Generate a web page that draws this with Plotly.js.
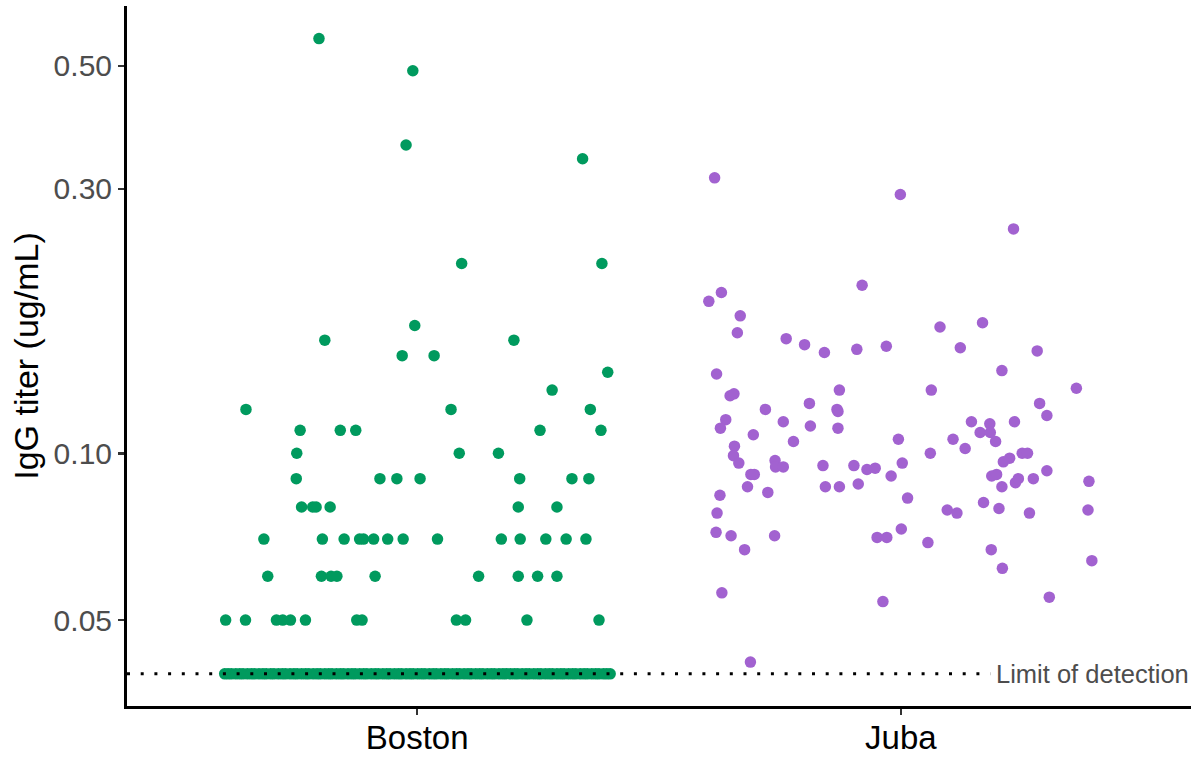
<!DOCTYPE html>
<html>
<head>
<meta charset="utf-8">
<script src="https://cdn.plot.ly/plotly-3.0.1.min.js"></script>
<style>
  html, body { margin: 0; padding: 0; background: #ffffff; }
  #chart { width: 1196px; height: 757px; }
</style>
</head>
<body>
<div id="chart"></div>
<script>
// ---- Data ----
const groups = ['Boston', 'Juba'];
const yTickVals = [0.05, 0.10, 0.30, 0.50];
const yTickText = ['0.05', '0.10', '0.30', '0.50'];
const limitOfDetection = 0.04;
const lodLabel = 'Limit of detection';

// Boston titers (ug/mL) and horizontal jitter (category units)
const bostonValues = [
  0.56, 0.49, 0.36, 0.34, 0.22, 0.22, 0.17, 0.16, 0.16, 0.15, 0.15, 0.14, 0.13,
  0.12, 0.12, 0.12,
  0.11, 0.11, 0.11, 0.11, 0.11,
  0.10, 0.10, 0.10,
  0.09, 0.09, 0.09, 0.09, 0.09, 0.09, 0.09,
  0.08, 0.08, 0.08, 0.08, 0.08, 0.08,
  0.07, 0.07, 0.07, 0.07, 0.07, 0.07, 0.07, 0.07, 0.07, 0.07, 0.07, 0.07, 0.07, 0.07,
  0.06, 0.06, 0.06, 0.06, 0.06, 0.06, 0.06, 0.06, 0.06,
  0.05, 0.05, 0.05, 0.05, 0.05, 0.05, 0.05, 0.05, 0.05, 0.05, 0.05, 0.05
];
const bostonJitter = [
  -0.203, -0.009, -0.023, 0.342, 0.092, 0.382, -0.005, -0.191, 0.200, -0.031, 0.035, 0.394, 0.279,
  -0.354, 0.070, 0.358,
  -0.242, -0.159, -0.127, 0.254, 0.380,
  -0.249, 0.087, 0.168,
  -0.250, -0.077, -0.042, 0.006, 0.212, 0.320, 0.355,
  -0.239, -0.216, -0.209, -0.180, 0.209, 0.289,
  -0.317, -0.196, -0.151, -0.119, -0.111, -0.090, -0.061, -0.029, 0.042, 0.174, 0.213, 0.266, 0.308, 0.349,
  -0.309, -0.198, -0.178, -0.166, -0.087, 0.127, 0.209, 0.249, 0.289,
  -0.396, -0.355, -0.291, -0.278, -0.262, -0.231, -0.125, -0.114, 0.081, 0.100, 0.227, 0.376
];
// Boston samples below detection, plotted at the limit of detection
const bostonLodJitter = [
  -0.398, -0.391, -0.384, -0.375, -0.367, -0.360, -0.351, -0.343, -0.336, -0.327,
  -0.319, -0.312, -0.303, -0.296, -0.287, -0.279, -0.272, -0.263, -0.255, -0.248,
  -0.239, -0.231, -0.224, -0.215, -0.207, -0.200, -0.191, -0.183, -0.176, -0.167,
  -0.159, -0.152, -0.143, -0.135, -0.128, -0.119, -0.111, -0.104, -0.095, -0.087,
  -0.080, -0.071, -0.063, -0.056, -0.047, -0.039, -0.032, -0.023, -0.015, -0.008,
  0.001, 0.009, 0.016, 0.025, 0.033, 0.040, 0.049, 0.057, 0.064, 0.073,
  0.081, 0.088, 0.097, 0.105, 0.112, 0.121, 0.129, 0.136, 0.145, 0.153,
  0.160, 0.169, 0.177, 0.184, 0.193, 0.201, 0.208, 0.217, 0.225, 0.232,
  0.241, 0.249, 0.256, 0.265, 0.273, 0.280, 0.289, 0.297, 0.304, 0.313,
  0.321, 0.328, 0.337, 0.345, 0.352, 0.361, 0.369, 0.376, 0.385, 0.392, 0.399
];

// Juba titers (ug/mL) and horizontal jitter (category units)
const jubaValues = [
  0.314, 0.293, 0.254, 0.201, 0.195, 0.188, 0.177, 0.165, 0.161, 0.169, 0.172,
  0.157, 0.152, 0.154, 0.156, 0.155, 0.153, 0.139, 0.141, 0.131, 0.127, 0.128,
  0.130, 0.130, 0.120, 0.123, 0.120, 0.119, 0.123, 0.117, 0.115, 0.111, 0.114,
  0.112, 0.111, 0.108, 0.105, 0.106, 0.114, 0.113, 0.109, 0.109, 0.105, 0.114,
  0.106, 0.102, 0.103, 0.099, 0.096, 0.097, 0.0945, 0.0945, 0.095, 0.095, 0.0935,
  0.094, 0.096, 0.100, 0.100, 0.100, 0.098, 0.0965, 0.093, 0.0916, 0.0916, 0.087,
  0.085, 0.084, 0.087, 0.087, 0.088, 0.091, 0.083, 0.078, 0.072, 0.071, 0.071,
  0.067, 0.0705, 0.0705, 0.073, 0.069, 0.079, 0.078, 0.0815, 0.0795, 0.067, 0.062,
  0.091, 0.0916, 0.087, 0.0885, 0.090, 0.090, 0.089, 0.079, 0.078, 0.064, 0.055,
  0.056, 0.054, 0.042
];
const jubaJitter = [
  -0.385, -0.001, 0.233, -0.080, -0.371, -0.397, -0.332, -0.338, -0.237, 0.081, 0.169,
  -0.199, -0.158, -0.091, -0.030, 0.123, 0.282, -0.381, 0.209, 0.363, -0.353, -0.345,
  -0.127, 0.063, -0.280, -0.189, -0.132, -0.130, 0.287, 0.302, -0.362, -0.373, -0.243,
  -0.187, -0.130, -0.305, -0.222, -0.005, 0.146, 0.184, 0.164, 0.185, 0.196, 0.235,
  0.108, 0.133, -0.344, -0.346, -0.335, -0.260, -0.259, -0.243, -0.161, -0.097, -0.070,
  -0.053, 0.003, 0.061, 0.251, 0.262, 0.225, 0.212, 0.302, -0.310, -0.303, -0.317,
  -0.275, -0.374, -0.156, -0.127, -0.088, -0.020, 0.014, -0.380, -0.382, -0.351, -0.261,
  -0.323, -0.049, -0.029, 0.001, 0.056, 0.096, 0.116, 0.171, 0.203, 0.187, 0.210,
  0.188, 0.198, 0.209, 0.237, 0.243, 0.274, 0.389, 0.387, 0.266, 0.395, 0.307,
  -0.370, -0.037, -0.311
];

// ---- Styles ----
const green = '#009A5E';
const purple = '#A262D0';
const font = 'Liberation Sans, Arial, Helvetica, sans-serif';
const markerSize = 11.5;

const bostonPos = groups.indexOf('Boston') + 1;
const jubaPos = groups.indexOf('Juba') + 1;

const traces = [
  {
    type: 'scatter', mode: 'markers', name: 'Boston < LOD',
    x: bostonLodJitter.map(j => bostonPos + j),
    y: bostonLodJitter.map(() => limitOfDetection),
    marker: { color: green, size: markerSize, line: { width: 0 } },
    hoverinfo: 'y'
  },
  {
    type: 'scatter', mode: 'markers', name: 'Boston',
    x: bostonJitter.map(j => bostonPos + j),
    y: bostonValues,
    marker: { color: green, size: markerSize, line: { width: 0 } },
    hoverinfo: 'y'
  },
  {
    type: 'scatter', mode: 'markers', name: 'Juba',
    x: jubaJitter.map(j => jubaPos + j),
    y: jubaValues,
    marker: { color: purple, size: markerSize, line: { width: 0 } },
    hoverinfo: 'y'
  }
];

const layout = {
  width: 1196, height: 757,
  margin: { l: 127, r: 5, t: 6, b: 51 },
  paper_bgcolor: '#ffffff', plot_bgcolor: '#ffffff',
  showlegend: false,
  font: { family: font, color: '#000000' },
  xaxis: {
    range: [0.4, 2.6],
    tickvals: groups.map((g, i) => i + 1),
    ticktext: groups,
    showgrid: false, zeroline: false,
    showline: true, linecolor: '#000000', linewidth: 3,
    ticks: 'outside', ticklen: 6, tickwidth: 2.5, tickcolor: '#333333',
    tickfont: { family: font, size: 33, color: '#000000' },
    ticklabelstandoff: -6,
    fixedrange: true
  },
  yaxis: {
    type: 'log',
    range: [-1.456, -0.193],
    tickvals: yTickVals,
    ticktext: yTickText,
    showgrid: false, zeroline: false,
    showline: true, linecolor: '#000000', linewidth: 3,
    ticks: 'outside', ticklen: 6, tickwidth: 2.5, tickcolor: '#333333',
    tickfont: { family: font, size: 30, color: '#4D4D4D' },
    title: { text: 'IgG titer (ug/mL)', font: { family: font, size: 34, color: '#000000' }, standoff: 5 },
    fixedrange: true
  },
  shapes: [
    {
      type: 'line', xref: 'x', yref: 'y', layer: 'above',
      x0: 0.4, x1: 2.185,
      y0: limitOfDetection, y1: limitOfDetection,
      line: { color: '#000000', width: 3, dash: '3px,10.7px' }
    }
  ],
  annotations: [
    {
      xref: 'x', yref: 'y', x: 2.6, y: Math.log10(limitOfDetection),
      xanchor: 'right', yanchor: 'middle', showarrow: false,
      text: lodLabel,
      font: { family: font, size: 25.5, color: '#4D4D4D' }
    }
  ]
};

Plotly.newPlot('chart', traces, layout, { displayModeBar: false, staticPlot: true });
</script>
</body>
</html>
